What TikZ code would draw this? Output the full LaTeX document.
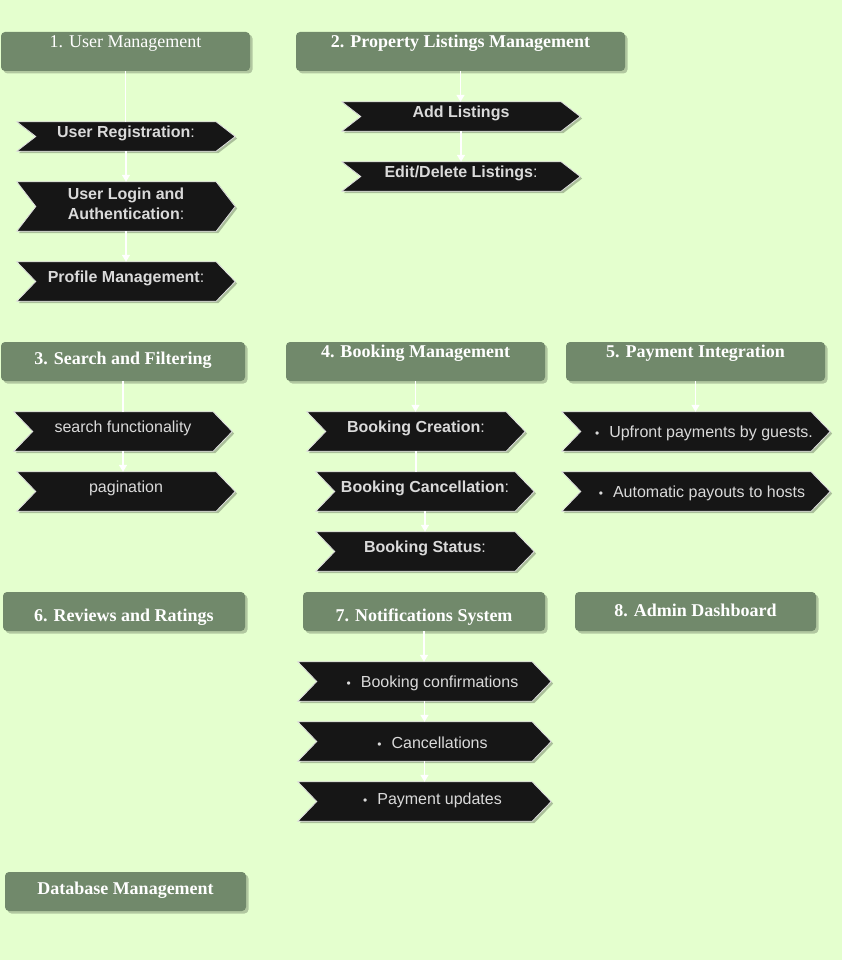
\documentclass[tikz,border=0pt]{standalone}
\usepackage{fontspec}
\setmainfont{Liberation Serif}
\newfontfamily\sansface{Liberation Sans}
\newfontfamily\serifface{Liberation Serif}
\usetikzlibrary{fit,shadows,arrows.meta,calc}
\definecolor{bgcol}{RGB}{228,255,206}
\definecolor{hdrcol}{RGB}{113,137,107}
\definecolor{chevcol}{RGB}{22,22,22}
\definecolor{chevtxt}{RGB}{218,218,218}
\tikzset{
  hdr/.style={rectangle, rounded corners=4pt, fill=hdrcol, inner sep=0pt, draw=none,
    drop shadow={shadow xshift=2.5pt, shadow yshift=-2.5pt, fill=black, opacity=0.22}},
  htext/.style={text=white, font=\serifface\fontsize{18}{21}\selectfont, inner sep=0pt},
  chevbox/.style={rectangle, inner sep=0pt, draw=none},
  chevshape/.style={fill=chevcol, draw=white!88!black, line width=0.8pt,
    drop shadow={shadow xshift=2pt, shadow yshift=-2pt, fill=black, opacity=0.25}},
  ctext/.style={text=chevtxt, font=\sansface\fontsize{16}{20}\selectfont, inner sep=0pt, align=center},
  conn/.style={draw=white, line width=1.5pt},
  arr/.style={conn, -{Triangle[width=8pt,length=7pt]}},
}
\newcommand\chevron[5]{%
  \node[chevbox, fit={(#2,#3) (#4,#5)}] (#1) {};
  \draw[chevshape] (#1.north west) -- ([xshift=-19pt]#1.north east) -- (#1.east)
    -- ([xshift=-19pt]#1.south east) -- (#1.south west) -- ([xshift=19pt]#1.west) -- cycle;
}
\newcommand\bul{{\fontsize{12}{14}\selectfont\textbullet}\hspace{10pt}}
\begin{document}
\begin{tikzpicture}[x=1pt,y=-1pt]
\fill[bgcol] (0,0) rectangle (842,960);
\useasboundingbox (0,0) rectangle (842,960);

% headers
\node[hdr, fit={(1,32) (250,71)}] (h1) {};
\node[htext] (h1t) at ([yshift=8pt]h1.center) {1. User Management};
\node[hdr, fit={(296,32) (625,71)}] (h2) {};
\node[htext] (h2t) at ([yshift=8pt]h2.center) {\bfseries 2. Property Listings Management};
\node[hdr, fit={(1,342) (245,381)}] (h3) {};
\node[htext] (h3t) at ([yshift=1pt]h3.center) {\bfseries 3. Search and Filtering};
\node[hdr, fit={(286,342) (545,381)}] (h4) {};
\node[htext] (h4t) at ([yshift=8pt]h4.center) {\bfseries 4. Booking Management};
\node[hdr, fit={(566,342) (825,381)}] (h5) {};
\node[htext] (h5t) at ([yshift=8pt]h5.center) {\bfseries 5. Payment Integration};
\node[hdr, fit={(3,592) (245,631)}] (h6) {};
\node[htext] (h6t) at ([yshift=-6pt]h6.center) {\bfseries 6. Reviews and Ratings};
\node[hdr, fit={(303,592) (545,631)}] (h7) {};
\node[htext] (h7t) at ([yshift=-6pt]h7.center) {\bfseries 7. Notifications System};
\node[hdr, fit={(575,592) (816,631)}] (h8) {};
\node[htext] (h8t) at ([yshift=1pt]h8.center) {\bfseries 8. Admin Dashboard};
\node[hdr, fit={(5,872) (246,911)}] (hdb) {};
\node[htext] (hdbt) at ([yshift=1pt]hdb.center) {\bfseries Database Management};

% chevrons
\chevron{c11}{17}{122}{235}{151}
\node[ctext] (c11t) at ([yshift=3pt]c11.center) {\textbf{User Registration}:};
\chevron{c12}{17}{182}{235}{231}
\node[ctext] (c12t) at ([yshift=3pt]c12.center) {\textbf{User Login and}\\\textbf{Authentication}:};
\chevron{c13}{17}{262}{235}{301}
\node[ctext] (c13t) at ([yshift=3.5pt]c13.center) {\textbf{Profile Management}:};

\chevron{c21}{342}{102}{580}{131}
\node[ctext] (c21t) at ([yshift=3.5pt]c21.center) {\textbf{Add Listings}};
\chevron{c22}{342}{162}{580}{191}
\node[ctext] (c22t) at ([yshift=3.5pt]c22.center) {\textbf{Edit/Delete Listings}:};

\chevron{c31}{14}{412}{232}{451}
\node[ctext] (c31t) at ([yshift=3.5pt]c31.center) {search functionality};
\chevron{c32}{17}{472}{235}{511}
\node[ctext] (c32t) at ([yshift=3.5pt]c32.center) {pagination};

\chevron{c41}{307}{412}{525}{451}
\node[ctext] (c41t) at ([yshift=3.5pt]c41.center) {\textbf{Booking Creation}:};
\chevron{c42}{316}{472}{534}{511}
\node[ctext] (c42t) at ([yshift=3.5pt]c42.center) {\textbf{Booking Cancellation}:};
\chevron{c43}{316}{532}{534}{571}
\node[ctext] (c43t) at ([yshift=3.5pt]c43.center) {\textbf{Booking Status}:};

\chevron{c51}{562}{412}{830}{451}
\node[ctext] (c51t) at ([xshift=8pt,yshift=-1.5pt]c51.center) {\bul Upfront payments by guests.};
\chevron{c52}{562}{472}{830}{511}
\node[ctext] (c52t) at ([xshift=6pt,yshift=-1.5pt]c52.center) {\bul Automatic payouts to hosts};

\chevron{c71}{298}{662}{551}{701}
\node[ctext] (c71t) at ([xshift=8pt,yshift=-1.5pt]c71.center) {\bul Booking confirmations};
\chevron{c72}{298}{722}{551}{761}
\node[ctext] (c72t) at ([xshift=8pt,yshift=-1.5pt]c72.center) {\bul Cancellations};
\chevron{c73}{298}{782}{551}{821}
\node[ctext] (c73t) at ([xshift=8pt,yshift=1.5pt]c73.center) {\bul Payment updates};

% connectors
\draw[conn] (h1.south) -- (h1.south |- c11.north);
\draw[arr] (c11.south) -- (c11.south |- c12.north);
\draw[arr] (c12.south) -- (c12.south |- c13.north);
\draw[arr] (h2.south) -- (h2.south |- c21.north);
\draw[arr] (c21.south) -- (c21.south |- c22.north);
\draw[conn] (h3.south) -- (h3.south |- c31.north);
\draw[arr] (c31.south) -- (c31.south |- c32.north);
\draw[arr] (h4.south) -- (h4.south |- c41.north);
\draw[conn] (c41.south) -- (c41.south |- c42.north);
\draw[arr] (c42.south) -- (c42.south |- c43.north);
\draw[arr] (h5.south) -- (h5.south |- c51.north);
\draw[arr] (h7.south) -- (h7.south |- c71.north);
\draw[arr] (c71.south) -- (c71.south |- c72.north);
\draw[arr] (c72.south) -- (c72.south |- c73.north);
\end{tikzpicture}
\end{document}
